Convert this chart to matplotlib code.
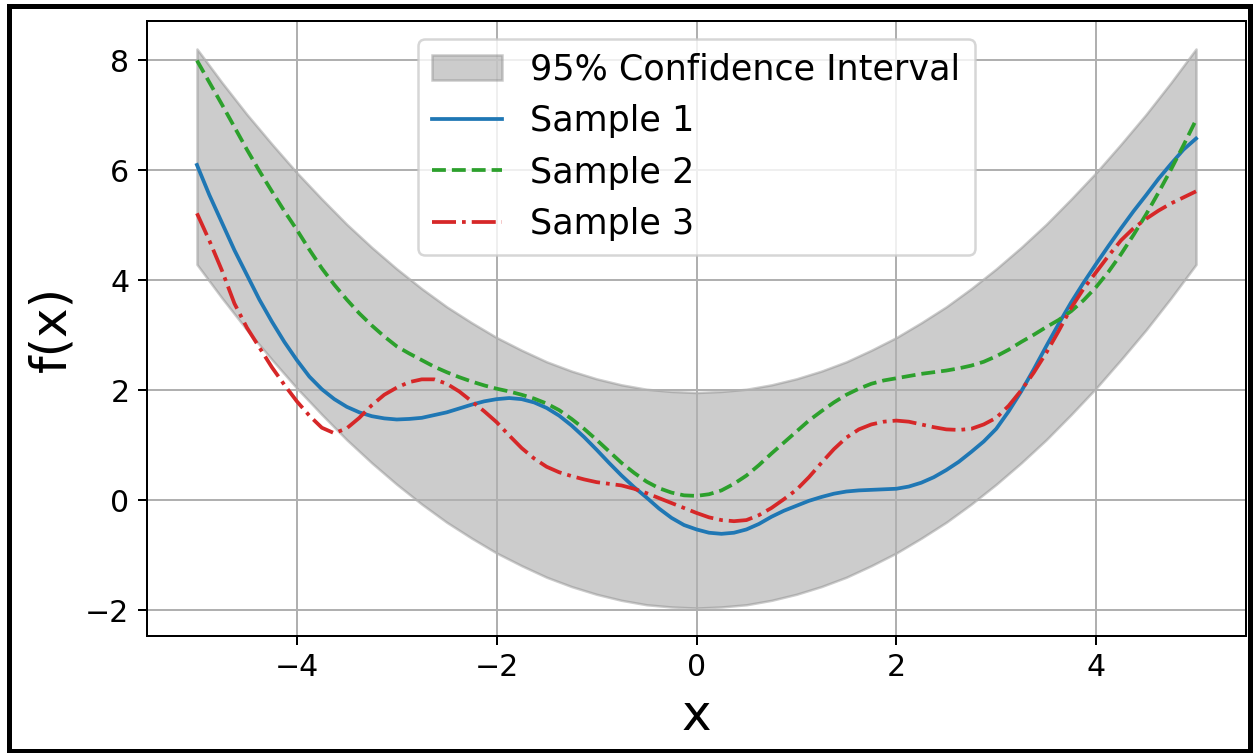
import numpy as np
import matplotlib
matplotlib.use("Agg")
from matplotlib import pyplot as plt
from matplotlib.patches import Rectangle

# x grids the values were read at
x_band = np.linspace(-5, 5, 41)
x = np.linspace(-5, 5, 81)

ci_upper = [8.21, 7.60, 7.02, 6.48, 5.96, 5.48, 5.02, 4.60, 4.21, 3.85, 3.52,
            3.23, 2.96, 2.73, 2.52, 2.35, 2.21, 2.10, 2.02, 1.98, 1.96,
            1.98, 2.02, 2.10, 2.21, 2.35, 2.52, 2.73, 2.96, 3.23, 3.52,
            3.85, 4.21, 4.60, 5.02, 5.48, 5.96, 6.48, 7.02, 7.60, 8.21]
ci_lower = [4.29, 3.68, 3.10, 2.56, 2.04, 1.56, 1.10, 0.68, 0.29, -0.07, -0.40,
            -0.69, -0.96, -1.19, -1.40, -1.57, -1.71, -1.82, -1.90, -1.94, -1.96,
            -1.94, -1.90, -1.82, -1.71, -1.57, -1.40, -1.19, -0.96, -0.69, -0.40,
            -0.07, 0.29, 0.68, 1.10, 1.56, 2.04, 2.56, 3.10, 3.68, 4.29]

sample1 = [6.10, 5.55, 5.05, 4.55, 4.10, 3.65, 3.25, 2.88, 2.55, 2.25,
           2.02, 1.84, 1.70, 1.60, 1.53, 1.49, 1.47, 1.48, 1.50, 1.55,
           1.60, 1.67, 1.74, 1.80, 1.84, 1.86, 1.84, 1.78, 1.68, 1.54,
           1.36, 1.15, 0.92, 0.68, 0.45, 0.24, 0.05, -0.15, -0.32, -0.45,
           -0.53, -0.59, -0.61, -0.59, -0.53, -0.43, -0.30, -0.19, -0.10, -0.01,
           0.06, 0.12, 0.16, 0.18, 0.19, 0.20, 0.21, 0.25, 0.32, 0.42,
           0.55, 0.70, 0.88, 1.07, 1.30, 1.62, 1.98, 2.38, 2.80, 3.21,
           3.60, 3.96, 4.30, 4.63, 4.95, 5.26, 5.55, 5.85, 6.12, 6.38, 6.58]
sample2 = [8.00, 7.60, 7.20, 6.79, 6.38, 5.99, 5.62, 5.26, 4.92, 4.56,
           4.22, 3.92, 3.65, 3.40, 3.18, 2.98, 2.80, 2.67, 2.55, 2.43,
           2.33, 2.24, 2.16, 2.09, 2.03, 1.98, 1.92, 1.85, 1.76, 1.64,
           1.48, 1.30, 1.10, 0.89, 0.68, 0.50, 0.34, 0.22, 0.14, 0.09,
           0.08, 0.11, 0.18, 0.30, 0.45, 0.64, 0.85, 1.05, 1.25, 1.45,
           1.62, 1.78, 1.92, 2.03, 2.12, 2.18, 2.22, 2.26, 2.30, 2.33,
           2.36, 2.40, 2.45, 2.52, 2.62, 2.74, 2.88, 3.01, 3.15, 3.28,
           3.44, 3.64, 3.88, 4.16, 4.48, 4.83, 5.20, 5.60, 6.02, 6.46, 6.92]
sample3 = [5.22, 4.72, 4.18, 3.58, 3.14, 2.78, 2.42, 2.10, 1.80, 1.54,
           1.32, 1.22, 1.31, 1.50, 1.73, 1.92, 2.05, 2.15, 2.20, 2.20,
           2.12, 1.98, 1.80, 1.62, 1.42, 1.18, 0.95, 0.76, 0.61, 0.51,
           0.44, 0.38, 0.33, 0.30, 0.27, 0.21, 0.13, 0.04, -0.05, -0.14,
           -0.23, -0.31, -0.36, -0.38, -0.36, -0.27, -0.14, 0.02, 0.19, 0.42,
           0.68, 0.93, 1.14, 1.29, 1.38, 1.43, 1.45, 1.43, 1.38, 1.33,
           1.29, 1.28, 1.30, 1.38, 1.50, 1.72, 2.00, 2.32, 2.68, 3.08,
           3.50, 3.85, 4.15, 4.45, 4.73, 4.95, 5.12, 5.27, 5.40, 5.51, 5.62]

fig = plt.figure(figsize=(1258 / 180, 753 / 180), dpi=180)
ax = fig.add_axes([147 / 1258, 117 / 753, 1099 / 1258, 615 / 753])

ax.fill_between(x_band, ci_lower, ci_upper, color='gray', alpha=0.4,
                label='95% Confidence Interval')
ax.plot(x, sample1, color='tab:blue', linestyle='-', label='Sample 1')
ax.plot(x, sample2, color='tab:green', linestyle='--', label='Sample 2')
ax.plot(x, sample3, color='tab:red', linestyle='-.', label='Sample 3')

ax.set_xlabel('x', fontsize=20)
ax.set_ylabel('f(x)', fontsize=20)
ax.tick_params(labelsize=12)
ax.grid(True)
ax.legend(loc='upper center', fontsize=14)

# black frame around the whole picture
fig.patches.append(Rectangle((0.0068, 0.003), 0.9868, 0.9884,
                             transform=fig.transFigure, fill=False,
                             edgecolor='black', linewidth=2, zorder=10))

plt.savefig('out.png', dpi=180)
